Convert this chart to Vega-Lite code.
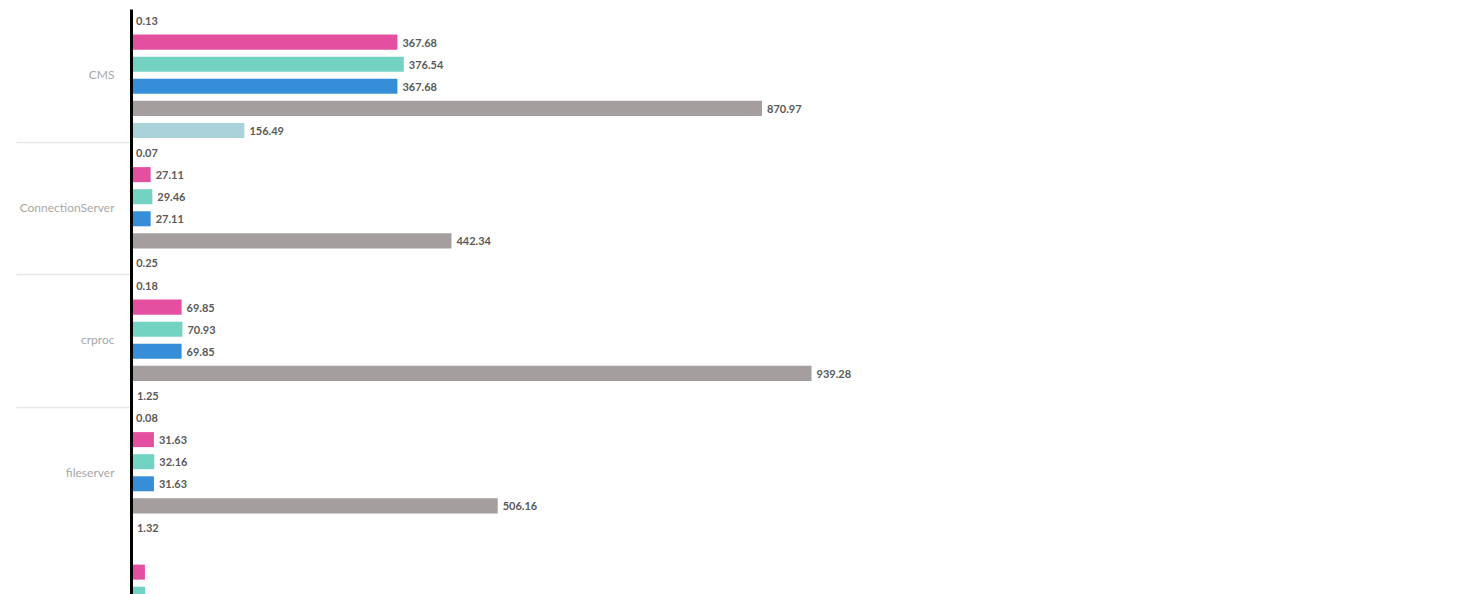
{
  "$schema": "https://vega.github.io/schema/vega-lite/v6.json",
  "width": 724.5,
  "height": 662.5,
  "autosize": {"type": "none"},
  "padding": {"left": 131, "top": 9, "right": 0, "bottom": 0},
  "background": "white",
  "config": {"view": {"stroke": null}},
  "data": {
    "values": [
      {"server": "CMS", "metric": "s1", "value": 0.13},
      {"server": "CMS", "metric": "s2", "value": 367.68},
      {"server": "CMS", "metric": "s3", "value": 376.54},
      {"server": "CMS", "metric": "s4", "value": 367.68},
      {"server": "CMS", "metric": "s5", "value": 870.97},
      {"server": "CMS", "metric": "s6", "value": 156.49},
      {"server": "ConnectionServer", "metric": "s1", "value": 0.07},
      {"server": "ConnectionServer", "metric": "s2", "value": 27.11},
      {"server": "ConnectionServer", "metric": "s3", "value": 29.46},
      {"server": "ConnectionServer", "metric": "s4", "value": 27.11},
      {"server": "ConnectionServer", "metric": "s5", "value": 442.34},
      {"server": "ConnectionServer", "metric": "s6", "value": 0.25},
      {"server": "crproc", "metric": "s1", "value": 0.18},
      {"server": "crproc", "metric": "s2", "value": 69.85},
      {"server": "crproc", "metric": "s3", "value": 70.93},
      {"server": "crproc", "metric": "s4", "value": 69.85},
      {"server": "crproc", "metric": "s5", "value": 939.28},
      {"server": "crproc", "metric": "s6", "value": 1.25},
      {"server": "fileserver", "metric": "s1", "value": 0.08},
      {"server": "fileserver", "metric": "s2", "value": 31.63},
      {"server": "fileserver", "metric": "s3", "value": 32.16},
      {"server": "fileserver", "metric": "s4", "value": 31.63},
      {"server": "fileserver", "metric": "s5", "value": 506.16},
      {"server": "fileserver", "metric": "s6", "value": 1.32},
      {"server": "jobserver", "metric": "s2", "value": 19.2},
      {"server": "jobserver", "metric": "s3", "value": 19.5},
      {"server": "jobserver", "metric": "s4", "value": 19.2},
      {"server": "jobserver", "metric": "s5", "value": 410.0},
      {"server": "jobserver", "metric": "s6", "value": 1.1}
    ]
  },
  "resolve": {"axis": {"y": "independent"}},
  "layer": [
    {
      "mark": {"type": "bar"},
      "encoding": {
        "y": {
          "field": "server",
          "type": "nominal",
          "sort": null,
          "scale": {"paddingInner": 0, "paddingOuter": 0},
          "axis": {
            "orient": "left",
            "title": null,
            "zindex": 1,
            "values": ["CMS", "ConnectionServer", "crproc", "fileserver"],
            "domainColor": "#000000",
            "domainWidth": 3,
            "ticks": false,
            "labelPadding": 17,
            "labelFont": "Lato",
            "labelFontSize": 12,
            "labelColor": "#a8a8a8",
            "labelFontWeight": "normal"
          }
        },
        "yOffset": {
          "field": "metric",
          "type": "nominal",
          "sort": null,
          "scale": {"paddingInner": 0.32, "paddingOuter": 0.16}
        },
        "x": {
          "field": "value",
          "type": "quantitative",
          "scale": {"domain": [0, 1000], "nice": false},
          "axis": null
        },
        "color": {
          "field": "metric",
          "type": "nominal",
          "legend": null,
          "scale": {
            "domain": ["s1", "s2", "s3", "s4", "s5", "s6"],
            "range": ["#f2a541", "#e4509f", "#72d3c2", "#358ed7", "#a49e9e", "#a9d2da"]
          }
        }
      }
    },
    {
      "transform": [{"filter": "datum.server !== 'jobserver'"}],
      "mark": {
        "type": "text",
        "align": "left",
        "baseline": "middle",
        "dx": 5,
        "dy": 1.5,
        "font": "Lato",
        "fontSize": 11,
        "fontWeight": "bold",
        "color": "#5a5a5a"
      },
      "encoding": {
        "y": {
          "field": "server",
          "type": "nominal",
          "sort": null,
          "axis": {
            "orient": "left",
            "title": null,
            "zindex": 0,
            "domain": false,
            "labels": false,
            "values": ["ConnectionServer", "crproc"],
            "tickBand": "extent",
            "tickSize": 115,
            "tickColor": "#e8e8e8",
            "tickWidth": 1.5
          }
        },
        "yOffset": {
          "field": "metric",
          "type": "nominal",
          "sort": null
        },
        "x": {
          "field": "value",
          "type": "quantitative",
          "axis": null
        },
        "text": {"field": "value", "type": "quantitative", "format": ".2f"}
      }
    }
  ]
}
